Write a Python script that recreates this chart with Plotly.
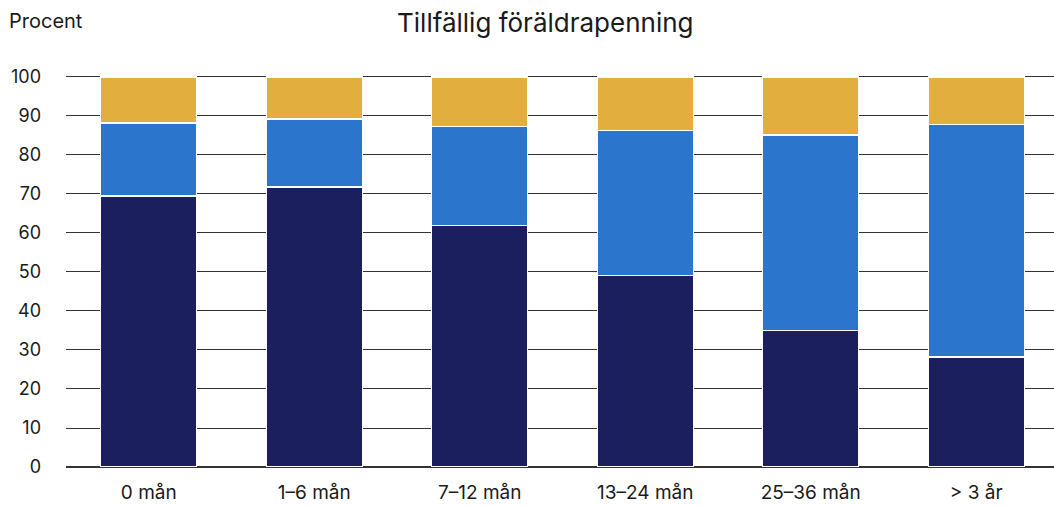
import plotly.graph_objects as go

categories = ["0 mån", "1–6 mån", "7–12 mån", "13–24 mån", "25–36 mån", "> 3 år"]
serie_1 = [69.5, 71.8, 62.0, 49.0, 34.9, 28.2]
serie_2 = [18.7, 17.4, 25.4, 37.2, 50.2, 59.7]
serie_3 = [11.8, 10.8, 12.6, 13.8, 14.9, 12.1]
series_names = ["Serie 1", "Serie 2", "Serie 3"]
colors = ["#1b1f5e", "#2b76cc", "#e2ae3e"]

W, H = 1054, 506
fig = go.Figure()
for name, vals, col in zip(series_names, [serie_1, serie_2, serie_3], colors):
    fig.add_trace(go.Bar(x=categories, y=vals, name=name, marker_color=col,
                         marker_line=dict(color="white", width=1.2)))

font = "Inter, Roboto, Arial, sans-serif"
fig.update_layout(
    barmode="stack", bargap=0.42, width=W, height=H,
    margin=dict(l=66, r=0, t=75, b=39),
    paper_bgcolor="white", plot_bgcolor="white",
    showlegend=False,
    font=dict(family=font, size=18, color="#1a1a1a"),
    xaxis=dict(range=[-0.5, 5.47], showgrid=False, ticks="", tickfont=dict(size=19),
               showline=False, ticklabelstandoff=12),
    yaxis=dict(range=[0, 100.5], tickvals=list(range(0, 101, 10)), showgrid=True,
               gridcolor="#333", gridwidth=1, zeroline=True, zerolinecolor="#333",
               zerolinewidth=1.5, ticks="", ticklabelstandoff=24, tickfont=dict(size=18)),
    annotations=[
        dict(text="Tillfällig föräldrapenning", xref="paper", yref="paper",
             x=(545 - 66) / (W - 66), y=1 + (75 - 22) / 392, xanchor="center", yanchor="middle",
             showarrow=False, font=dict(size=26, family=font, color="#1a1a1a")),
        dict(text="Procent", xref="paper", yref="paper",
             x=-(66 - 7) / (W - 66), y=1 + (75 - 21) / 392, xanchor="left", yanchor="middle",
             showarrow=False, font=dict(size=20, family=font, color="#1a1a1a")),
    ],
)
fig.write_html("out.html")
